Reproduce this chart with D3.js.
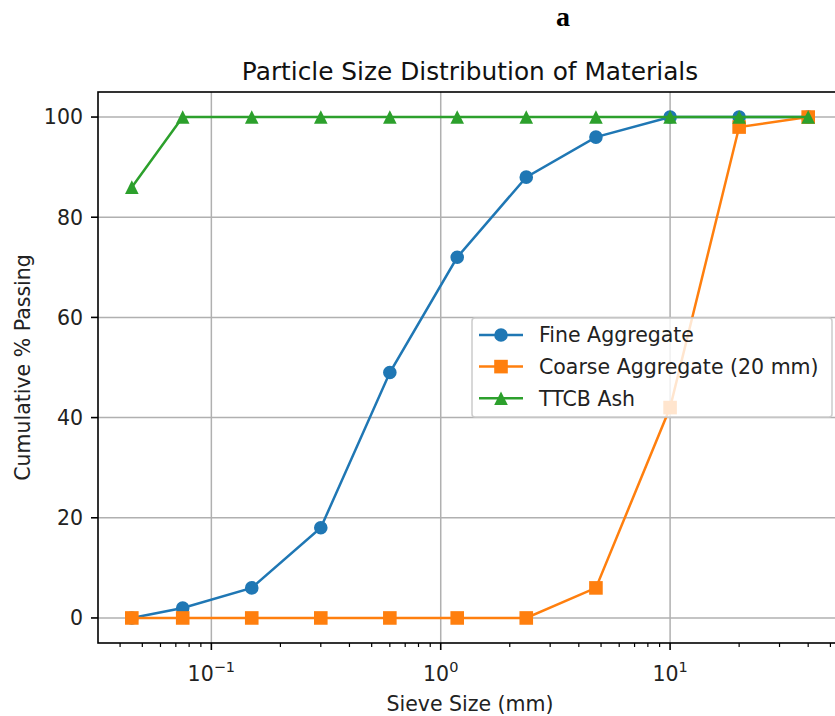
<!DOCTYPE html>
<html>
<head>
<meta charset="utf-8">
<script src="https://cdn.jsdelivr.net/npm/d3@7"></script>
<style>
  body { margin: 0; background: #fff; }
  svg { display: block; font-family: "DejaVu Sans", sans-serif; }
</style>
</head>
<body>
<div id="chart"></div>
<script>
// Sieve sizes (mm) and cumulative % passing for each material.
var sieveSizes = [0.045, 0.075, 0.15, 0.3, 0.6, 1.18, 2.36, 4.75, 10, 20, 40];
var fineAggregate = [0, 2, 6, 18, 49, 72, 88, 96, 100, 100, 100];
var coarseAggregate = [0, 0, 0, 0, 0, 0, 0, 6, 42, 98, 100];
var ttcbAsh = [86, 100, 100, 100, 100, 100, 100, 100, 100, 100, 100];

var seriesNames = ["Fine Aggregate", "Coarse Aggregate (20 mm)", "TTCB Ash"];
var seriesColors = ["#1f77b4", "#ff7f0e", "#2ca02c"];
var seriesMarkers = ["circle", "square", "triangle"];
var yTicks = [0, 20, 40, 60, 80, 100];
var xTicks = [0.1, 1, 10];
var xTickExp = ["\u22121", "0", "1"];

// Dimensions of the figure.
var width = 835;
var height = 716;
var m = { left: 98, top: 92, right: 842, bottom: 643 };
var fontSize = 20.5;
var ms = 13.6; // marker size, px

var svg = d3.select("#chart").append("svg")
    .attr("width", width)
    .attr("height", height);

// Log x axis with matplotlib-like 5% margins in log space.
var lo = Math.log10(d3.min(sieveSizes));
var hi = Math.log10(d3.max(sieveSizes));
var pad = (hi - lo) * 0.05;
var x = d3.scaleLog()
    .domain([Math.pow(10, lo - pad), Math.pow(10, hi + pad)])
    .range([m.left, m.right]);

var y = d3.scaleLinear()
    .domain([-5, 105])
    .range([m.bottom, m.top]);

// Grid lines at major ticks.
var grid = svg.append("g");
grid.selectAll("line.gx").data(xTicks).enter().append("line")
    .attr("x1", function(d) { return x(d); })
    .attr("x2", function(d) { return x(d); })
    .attr("y1", m.top).attr("y2", m.bottom)
    .attr("stroke", "#b0b0b0").attr("stroke-width", 1.5);
grid.selectAll("line.gy").data(yTicks).enter().append("line")
    .attr("y1", function(d) { return y(d); })
    .attr("y2", function(d) { return y(d); })
    .attr("x1", m.left).attr("x2", m.right)
    .attr("stroke", "#b0b0b0").attr("stroke-width", 1.5);

// Marker shapes, sized like matplotlib's.
function markerPath(type) {
    var h = ms / 2;
    if (type === "circle") {
        return "M" + h + ",0A" + h + "," + h + " 0 1,1 " + (-h) + ",0A" + h + "," + h + " 0 1,1 " + h + ",0Z";
    }
    if (type === "square") {
        return "M" + (-h) + "," + (-h) + "H" + h + "V" + h + "H" + (-h) + "Z";
    }
    return "M0," + (-h) + "L" + h + "," + h + "H" + (-h) + "Z";
}

// Draw the three series.
var allSeries = [fineAggregate, coarseAggregate, ttcbAsh];
var line = d3.line()
    .x(function(d) { return x(d[0]); })
    .y(function(d) { return y(d[1]); });

allSeries.forEach(function(vals, i) {
    var pts = sieveSizes.map(function(s, j) { return [s, vals[j]]; });
    var g = svg.append("g");
    g.append("path")
        .attr("d", line(pts))
        .attr("fill", "none")
        .attr("stroke", seriesColors[i])
        .attr("stroke-width", 2.5);
    g.selectAll("path.mk").data(pts).enter().append("path")
        .attr("d", markerPath(seriesMarkers[i]))
        .attr("transform", function(d) {
            return "translate(" + x(d[0]) + "," + y(d[1]) + ")";
        })
        .attr("fill", seriesColors[i]);
});

// Axes frame.
svg.append("rect")
    .attr("x", m.left).attr("y", m.top)
    .attr("width", m.right - m.left).attr("height", m.bottom - m.top)
    .attr("fill", "none").attr("stroke", "#000").attr("stroke-width", 1.6);

// Y ticks.
var yAxis = svg.append("g");
yTicks.forEach(function(t) {
    yAxis.append("line")
        .attr("x1", m.left - 7).attr("x2", m.left)
        .attr("y1", y(t)).attr("y2", y(t))
        .attr("stroke", "#000").attr("stroke-width", 1.6);
    yAxis.append("text")
        .attr("x", m.left - 15).attr("y", y(t))
        .attr("dy", "0.36em")
        .attr("text-anchor", "end")
        .attr("font-size", fontSize)
        .attr("fill", "#222")
        .text(t);
});

// X major and minor ticks.
var xAxis = svg.append("g");
var dom = x.domain();
var minor = [];
for (var e = -2; e <= 1; e++) {
    for (var k = 2; k <= 9; k++) {
        var v = k * Math.pow(10, e);
        if (v >= dom[0] && v <= dom[1]) minor.push(v);
    }
}
minor.forEach(function(v) {
    xAxis.append("line")
        .attr("x1", x(v)).attr("x2", x(v))
        .attr("y1", m.bottom).attr("y2", m.bottom + 4)
        .attr("stroke", "#000").attr("stroke-width", 1.2);
});
xTicks.forEach(function(t, i) {
    xAxis.append("line")
        .attr("x1", x(t)).attr("x2", x(t))
        .attr("y1", m.bottom).attr("y2", m.bottom + 7)
        .attr("stroke", "#000").attr("stroke-width", 1.6);
    var txt = xAxis.append("text")
        .attr("x", x(t)).attr("y", 681)
        .attr("text-anchor", "middle")
        .attr("font-size", fontSize)
        .attr("fill", "#222");
    txt.append("tspan").text("10");
    txt.append("tspan")
        .attr("font-size", 14.5)
        .attr("dy", -9)
        .text(xTickExp[i]);
});

// Axis labels and titles.
svg.append("text")
    .attr("x", (m.left + m.right) / 2).attr("y", 711)
    .attr("text-anchor", "middle")
    .attr("font-size", fontSize).attr("fill", "#222")
    .text("Sieve Size (mm)");

svg.append("text")
    .attr("transform", "translate(30," + ((m.top + m.bottom) / 2) + ") rotate(-90)")
    .attr("text-anchor", "middle")
    .attr("font-size", fontSize).attr("fill", "#222")
    .text("Cumulative % Passing");

svg.append("text")
    .attr("x", (m.left + m.right) / 2).attr("y", 80)
    .attr("text-anchor", "middle")
    .attr("font-size", 24.8).attr("fill", "#111")
    .text("Particle Size Distribution of Materials");

svg.append("text")
    .attr("x", 563).attr("y", 26)
    .attr("text-anchor", "middle")
    .attr("font-family", "'Liberation Serif', serif")
    .attr("font-weight", "bold")
    .attr("font-size", 28).attr("fill", "#000")
    .text("a");

// Legend.
var legend = svg.append("g").attr("transform", "translate(472,318)");
legend.append("rect")
    .attr("width", 360).attr("height", 99)
    .attr("rx", 3)
    .attr("fill", "#fff").attr("fill-opacity", 0.8)
    .attr("stroke", "#cccccc").attr("stroke-width", 1.5);
seriesNames.forEach(function(name, i) {
    var ly = 17 + i * 31.6;
    legend.append("line")
        .attr("x1", 7).attr("x2", 51)
        .attr("y1", ly).attr("y2", ly)
        .attr("stroke", seriesColors[i]).attr("stroke-width", 2.5);
    legend.append("path")
        .attr("d", markerPath(seriesMarkers[i]))
        .attr("transform", "translate(29," + ly + ")")
        .attr("fill", seriesColors[i]);
    legend.append("text")
        .attr("x", 67).attr("y", ly)
        .attr("dy", "0.36em")
        .attr("font-size", fontSize).attr("fill", "#222")
        .text(name);
});
</script>
</body>
</html>
